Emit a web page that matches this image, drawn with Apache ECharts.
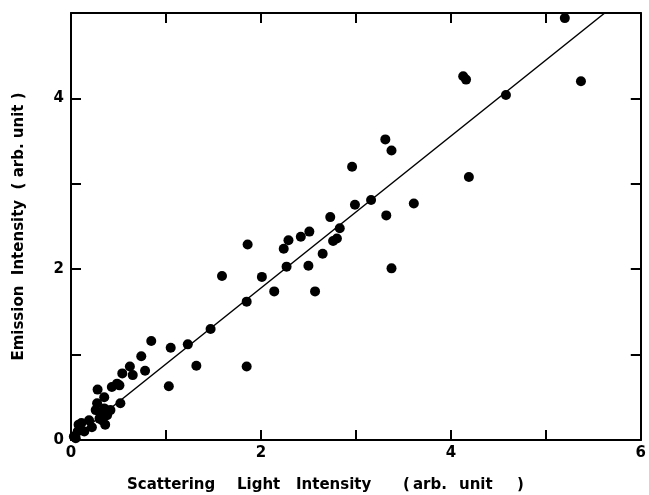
<!DOCTYPE html>
<html>
<head>
<meta charset="utf-8">
<script src="https://cdn.jsdelivr.net/npm/echarts@6/dist/echarts.min.js"></script>
<style>
  html, body { margin: 0; padding: 0; background: #fff; }
  #chart { width: 649px; height: 495px; }
</style>
</head>
<body>
<div id="chart"></div>
<script>
// 散射光强度 (x) 与 发射强度 (y)
var scatterX = [5.20, 4.13, 4.16, 4.58, 5.37, 4.19,
  3.31, 3.375, 2.96, 2.99, 3.16, 3.61, 3.32, 2.73, 2.83, 2.80, 2.76, 2.51, 2.42, 2.29,
  2.24, 1.86, 2.65, 2.27, 2.50, 3.375, 1.59, 2.01, 2.14, 2.57, 1.85,
  1.47, 1.85, 1.23, 1.05, 1.32, 0.845, 1.03, 0.74, 0.78, 0.62, 0.65, 0.54, 0.51, 0.43,
  0.52, 0.28, 0.11,
  0.485, 0.275, 0.26, 0.31, 0.35, 0.38, 0.33, 0.19, 0.08, 0.07, 0.03, 0.14, 0.415,
  0.35, 0.30, 0.22, 0.05, 0.36];
var scatterY = [4.94, 4.26, 4.22, 4.04, 4.20, 3.08,
  3.52, 3.39, 3.20, 2.755, 2.81, 2.77, 2.63, 2.61, 2.48, 2.36, 2.33, 2.44, 2.38, 2.34,
  2.24, 2.29, 2.18, 2.03, 2.04, 2.01, 1.92, 1.91, 1.74, 1.74, 1.62,
  1.30, 0.86, 1.12, 1.08, 0.87, 1.16, 0.63, 0.98, 0.81, 0.86, 0.76, 0.78, 0.64, 0.62,
  0.43, 0.59, 0.20,
  0.66, 0.43, 0.35, 0.31, 0.37, 0.29, 0.23, 0.23, 0.18, 0.10, 0.04, 0.10, 0.35,
  0.50, 0.25, 0.15, 0.02, 0.18];
// 拟合直线的两个端点
var fitX = [0, 5.62];
var fitY = [0, 5.0];
var xLabelValues = [0, 2, 4, 6];
var yLabelValues = [0, 2, 4];

var chart = echarts.init(document.getElementById('chart'));

var points = [];
for (var i = 0; i < scatterX.length; i++) {
    points.push([scatterX[i], scatterY[i]]);
}
var linePts = [];
for (var j = 0; j < fitX.length; j++) {
    linePts.push([fitX[j], fitY[j]]);
}

var font = 'DejaVu Sans';
var lineStyle = { color: '#000', width: 2 };
var tick = { show: true, inside: true, length: 10, lineStyle: { color: '#000', width: 2 } };

function baseX (showLabel, pos) {
    return {
        type: 'value', position: pos, min: 0, max: 6, interval: 1,
        axisLine: { show: true, onZero: false, lineStyle: lineStyle },
        axisTick: tick,
        splitLine: { show: false },
        axisLabel: {
            show: showLabel, margin: 6, color: '#000', fontFamily: font,
            fontWeight: 'bold', fontSize: 15,
            formatter: function (v) { return xLabelValues.indexOf(v) >= 0 ? String(v) : ''; }
        }
    };
}
function baseY (showLabel, pos) {
    return {
        type: 'value', position: pos, min: 0, max: 5, interval: 1,
        axisLine: { show: true, onZero: false, lineStyle: lineStyle },
        axisTick: tick,
        splitLine: { show: false },
        axisLabel: {
            show: showLabel, margin: 7, color: '#000', fontFamily: font,
            fontWeight: 'bold', fontSize: 15,
            formatter: function (v) { return yLabelValues.indexOf(v) >= 0 ? String(v) : ''; }
        }
    };
}

var yLeft = baseY(true, 'left');
yLeft.name = 'Emission  Intensity  ( arb. unit )';
yLeft.nameLocation = 'middle';
yLeft.nameGap = 44;
yLeft.nameTextStyle = { color: '#000', fontFamily: font, fontWeight: 'bold', fontSize: 15 };

// x 轴标题分段放置，保持原图的字距
var xTitleParts = [
    ['Scattering', 127], ['Light', 237], ['Intensity', 296],
    ['(', 403], ['arb.', 413], ['unit', 459], [')', 517]
];
var graphics = [];
for (var k = 0; k < xTitleParts.length; k++) {
    graphics.push({
        type: 'text', left: xTitleParts[k][1], top: 478,
        style: { text: xTitleParts[k][0], fill: '#000', font: 'bold 15px "DejaVu Sans"' }
    });
}

var option = {
    backgroundColor: '#fff',
    animation: false,
    grid: { left: 71, right: 5, top: 13, bottom: 55 },
    xAxis: [baseX(true, 'bottom'), baseX(false, 'top')],
    yAxis: [yLeft, baseY(false, 'right')],
    graphic: graphics,
    series: [{
        type: 'scatter',
        data: points,
        symbolSize: 10,
        itemStyle: { color: '#000', opacity: 1 },
        z: 3
    }, {
        type: 'line',
        data: linePts,
        symbol: 'none',
        lineStyle: { color: '#000', width: 1.5 },
        z: 2
    }]
};
chart.setOption(option);
</script>
</body>
</html>
